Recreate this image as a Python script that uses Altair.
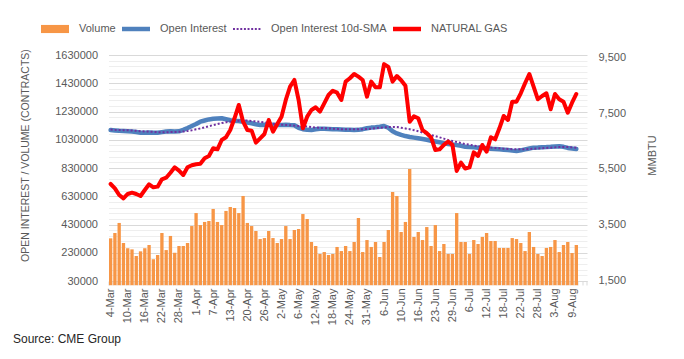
import json
import altair as alt
import pandas as pd

FONT = "Liberation Sans"
GREY = "#595959"

# ---- categories (CME trading days, 2022) ----
holidays = ["2022-04-15", "2022-05-30", "2022-06-20", "2022-07-04"]
trade_days = [d for d in pd.bdate_range("2022-03-04", "2022-08-10")
              if d.strftime("%Y-%m-%d") not in holidays]
dates = [f"{d.day}-{d.strftime('%b')}" for d in trade_days]
extra_dates = ["11-Aug", "12-Aug"]

x_tick_labels = ["4-Mar", "10-Mar", "16-Mar", "22-Mar", "28-Mar", "1-Apr", "7-Apr",
                 "13-Apr", "20-Apr", "26-Apr", "2-May", "6-May", "12-May", "18-May",
                 "24-May", "31-May", "6-Jun", "10-Jun", "16-Jun", "23-Jun", "29-Jun",
                 "6-Jul", "12-Jul", "18-Jul", "22-Jul", "28-Jul", "3-Aug", "9-Aug"]

left_ticks = [30000, 230000, 430000, 630000, 830000, 1030000, 1230000, 1430000, 1630000]
left_grid = [30000 + 40000 * k for k in range(41)]
right_ticks = [1500, 3500, 5500, 7500, 9500]

# ---- series (thousands of contracts / price x1000) ----
volume_k = [332, 370, 441, 299, 262, 254, 207, 240, 262, 285,
            184, 214, 370, 249, 349, 230, 278, 278, 299, 419,
            511, 426, 448, 455, 540, 448, 426, 526, 554, 547,
            511, 632, 441, 419, 384, 327, 334, 384, 334, 299,
            327, 419, 327, 391, 398, 504, 469, 306, 278, 221,
            235, 214, 221, 271, 242, 278, 242, 306, 476, 235,
            320, 271, 306, 200, 306, 391, 660, 632, 377, 448,
            823, 342, 377, 320, 412, 278, 426, 242, 292, 221,
            221, 511, 306, 306, 221, 320, 292, 342, 370, 313,
            313, 264, 264, 264, 334, 327, 299, 242, 377, 271,
            221, 207, 264, 271, 320, 235, 285, 306, 228, 285]

open_interest_k = [1099, 1096, 1093, 1092, 1090, 1088, 1085, 1080, 1080, 1082,
                   1080, 1080, 1084, 1088, 1090, 1089, 1090, 1100, 1113, 1127,
                   1141, 1158, 1166, 1174, 1178, 1180, 1182, 1175, 1168, 1165,
                   1163, 1158, 1152, 1147, 1140, 1135, 1136, 1135, 1137, 1135,
                   1135, 1136, 1134, 1133, 1115, 1105, 1100, 1099, 1104, 1108,
                   1108, 1106, 1104, 1104, 1103, 1101, 1100, 1099, 1100, 1105,
                   1111, 1116, 1118, 1122, 1127, 1115, 1090, 1075, 1064, 1056,
                   1050, 1045, 1040, 1035, 1030, 1023, 1018, 1012, 1006, 1000,
                   996, 992, 987, 981, 978, 976, 974, 972, 970, 967,
                   965, 962, 960, 957, 953, 950, 955, 962, 968, 974,
                   975, 977, 978, 980, 983, 984, 980, 972, 968, 965]

oi_sma_k = [1102, 1100, 1099, 1098, 1097, 1095, 1093, 1091, 1089, 1088,
            1086, 1084, 1083, 1083, 1084, 1085, 1086, 1088, 1092, 1097,
            1104, 1110, 1118, 1126, 1134, 1141, 1148, 1154, 1158, 1162,
            1165, 1166, 1166, 1163, 1160, 1157, 1153, 1148, 1144, 1140,
            1137, 1135, 1133, 1130, 1128, 1126, 1124, 1120, 1117, 1114,
            1112, 1110, 1108, 1106, 1105, 1104, 1104, 1104, 1104, 1105,
            1106, 1108, 1111, 1115, 1118, 1120, 1121, 1120, 1115, 1110,
            1104, 1098, 1090, 1081, 1072, 1064, 1056, 1047, 1038, 1028,
            1021, 1014, 1007, 1000, 995, 989, 984, 980, 977, 975,
            972, 970, 967, 965, 963, 962, 962, 963, 964, 966,
            968, 970, 972, 974, 976, 978, 979, 978, 976, 973]

natural_gas = [4960, 4804, 4563, 4443, 4600, 4647, 4600, 4527, 4744, 4948,
               4840, 4864, 5129, 5187, 5367, 5562, 5440, 5284, 5562, 5634,
               5670, 5690, 5886, 5969, 6246, 6210, 6546, 6643, 6906, 7327,
               7807, 7206, 6906, 6881, 6448, 6607, 6762, 7266, 6845, 7122,
               7385, 7987, 8467, 8708, 7987, 6967, 7385, 7627, 7724, 7566,
               7868, 8167, 8322, 8250, 7987, 8647, 8769, 8924, 8827, 8708,
               8106, 8647, 8443, 8443, 9280, 9180, 8650, 8850, 8700, 8500,
               7200, 7400, 7330, 6900, 6790, 6640, 6185, 6210, 6370, 6490,
               6370, 5430, 5730, 5520, 5560, 6100, 5970, 6366, 6125, 6643,
               6570, 6967, 7410, 7266, 7926, 7926, 8228, 8590, 8924, 8467,
               8012, 8131, 8228, 7652, 8203, 8012, 7926, 7530, 7890, 8203]

series_names = ["Volume", "Open Interest", "Open Interest 10d-SMA", "NATURAL GAS"]
series_colors = ["#F79646", "#4F81BD", "#7030A0", "#FF0000"]

df = pd.DataFrame({
    "d": dates,
    "vol": [v * 1000 for v in volume_k],
    "oi": [v * 1000 for v in open_interest_k],
    "sma": [v * 1000 for v in oi_sma_k],
    "gas": natural_gas,
})

# ---- encodings ----
x_axis = alt.Axis(
    labelAngle=270, labelExpr=f"indexof({json.dumps(x_tick_labels)}, datum.label) >= 0 ? datum.label : ''",
    labelOverlap=False, labelFont=FONT, labelFontSize=11, labelColor=GREY, labelPadding=3,
    tickBand="extent", tickSize=4, tickColor="#d9d9d9", domainColor="#d9d9d9", grid=False,
)
x_enc = alt.X("d:O", title=None, axis=x_axis,
              scale=alt.Scale(type="band", domain=dates + extra_dates, paddingInner=0.22, paddingOuter=0.11))

left_scale = alt.Scale(domain=[30000, 1630000], nice=False, zero=False)
left_axis = alt.Axis(
    values=left_grid, format="d",
    labelExpr="(datum.value - 30000) % 200000 == 0 ? datum.label : ''",
    grid=True,
    gridColor={"condition": {"test": "(datum.value - 30000) % 200000 == 0", "value": "#d9d9d9"}, "value": "#eeeeee"},
    domain=False, ticks=False, labelPadding=11, labelFont=FONT, labelFontSize=11, labelColor=GREY,
    titleFont=FONT, titleFontSize=10.5, titleFontWeight="normal", titleColor=GREY,
    titleAngle=270, titleX=-83.5, titleY=100, titleAlign="center", titleBaseline="middle",
)
LEFT_TITLE = "OPEN INTEREST / VOLUME (CONTRACTS)"


def y_left(field):
    return alt.Y(f"{field}:Q", scale=left_scale, axis=left_axis, title=LEFT_TITLE)


base = alt.Chart(df)
bars = base.mark_bar(color="#F79646").encode(x=x_enc, y=y_left("vol"))
oi_line = base.mark_line(color="#4F81BD", strokeWidth=4.5, strokeCap="round", strokeJoin="round").encode(
    x=x_enc, y=y_left("oi"))
sma_line = base.mark_line(color="#7030A0", strokeWidth=2, strokeDash=[2, 2]).encode(
    x=x_enc, y=y_left("sma"))
left_layer = alt.layer(bars, oi_line, sma_line)

right_axis = alt.Axis(
    orient="right", values=right_ticks, format=",d", grid=False, domain=False, ticks=False,
    labelPadding=11, labelFont=FONT, labelFontSize=11, labelColor=GREY,
    titleFont=FONT, titleFontSize=11, titleFontWeight="normal", titleColor=GREY,
    titleAngle=270, titleX=65, titleY=100, titleAlign="center", titleBaseline="middle",
)
gas_line = base.mark_line(color="#FF0000", strokeWidth=4, strokeCap="round", strokeJoin="round").encode(
    x=x_enc,
    y=alt.Y("gas:Q", title="MMBTU", axis=right_axis,
            scale=alt.Scale(domain=[1464, 9608], nice=False, zero=False)),
)

# ---- legend (symbols drawn by the legend itself) ----
dots = " ".join(f"M{-1 + 0.26 * k:.2f},-0.07h0.14v0.14h-0.14Z" for k in range(8))
legend_shapes = [
    "M-1,-0.29H1V0.29H-1Z",
    "M-1,-0.16H1V0.16H-1Z",
    dots,
    "M-1,-0.16H1V0.16H-1Z",
]
legend_def = alt.Legend(
    orient="none", legendX=-67.5, legendY=-40, direction="horizontal", title=None,
    symbolSize=784, symbolStrokeWidth=0, symbolOpacity=1,
    labelFont=FONT, labelFontSize=11, labelColor=GREY, labelOffset=10, columnPadding=6,
)
legend_layer = alt.Chart(pd.DataFrame({"s": series_names})).mark_point(filled=True, opacity=0).encode(
    color=alt.Color("s:N", scale=alt.Scale(domain=series_names, range=series_colors), legend=legend_def),
    shape=alt.Shape("s:N", scale=alt.Scale(domain=series_names, range=legend_shapes), legend=legend_def),
)

source = alt.Chart(pd.DataFrame({"t": ["Source: CME Group"]})).mark_text(
    align="left", baseline="alphabetic", font=FONT, fontSize=12, color="#262626"
).encode(x=alt.value(-95.5), y=alt.value(288), text="t:N")

chart = alt.layer(left_layer, gas_line, legend_layer, source).resolve_scale(
    y="independent"
).properties(
    width=478.5, height=226,
    padding={"left": 100.5, "top": 47, "right": 89, "bottom": 70},
    autosize=alt.AutoSizeParams(type="none"),
    background="white",
).configure_view(stroke=None)

chart.save("out.html", embed_options={"renderer": "svg", "actions": False})
